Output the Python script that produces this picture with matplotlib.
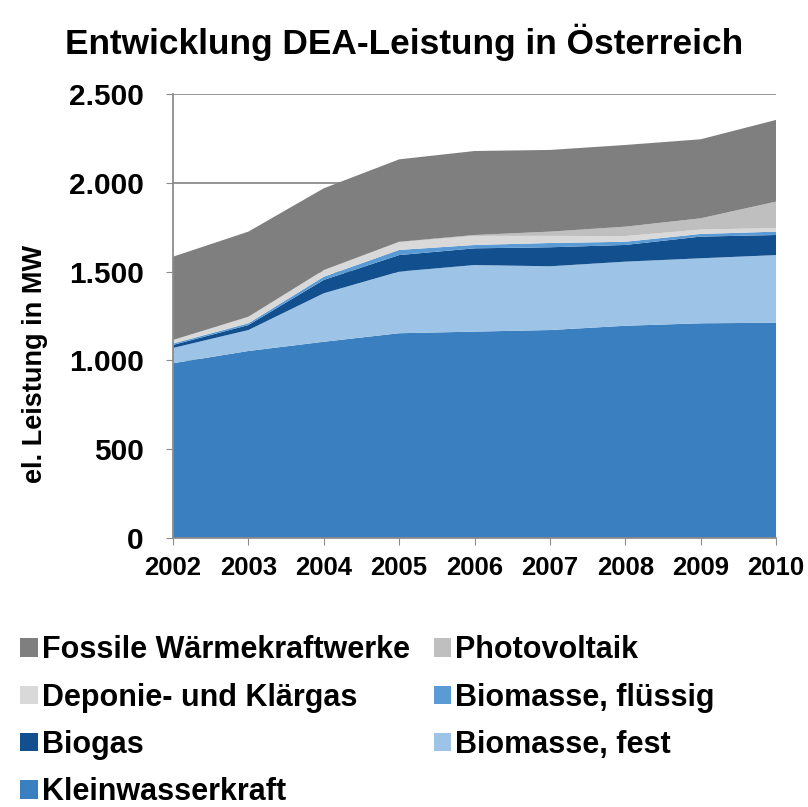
import numpy as np
import matplotlib
matplotlib.use('Agg')
from matplotlib import pyplot as plt
from matplotlib.patches import Patch
from matplotlib.ticker import FuncFormatter

years = [2002, 2003, 2004, 2005, 2006, 2007, 2008, 2009, 2010]

# stacked from bottom to top, MW
kleinwasser = [984, 1053, 1105, 1153, 1162, 1171, 1195, 1209, 1212]
biomasse_fest = [86, 118, 273, 347, 375, 359, 361, 366, 381]
biogas = [17, 28, 75, 93, 94, 107, 94, 122, 113]
biomasse_fluessig = [8, 10, 18, 29, 19, 24, 18, 15, 19]
deponie = [19, 34, 35, 43, 51, 40, 32, 25, 20]
photovoltaik = [1, 3, 3, 3, 5, 24, 53, 63, 149]
fossil = [469, 479, 460, 464, 473, 460, 460, 445, 460]

labels = ['Kleinwasserkraft', 'Biomasse, fest', 'Biogas', 'Biomasse, flüssig',
          'Deponie- und Klärgas', 'Photovoltaik', 'Fossile Wärmekraftwerke']
colors = ['#3a80c0', '#9dc3e6', '#114f8f', '#5b9bd5',
          '#d9d9d9', '#bfbfbf', '#7f7f7f']

title = 'Entwicklung DEA-Leistung in Österreich'
ylabel = 'el. Leistung in MW'
yticks = [0, 500, 1000, 1500, 2000, 2500]

plt.rcParams['font.family'] = ['Liberation Sans', 'DejaVu Sans']
plt.rcParams['font.weight'] = 'bold'

fig = plt.figure(figsize=(8.08, 8.07), dpi=100)
ax = fig.add_axes([173/808, 1 - 538/807, (776-173)/808, (538-94)/807])

series = [kleinwasser, biomasse_fest, biogas, biomasse_fluessig,
          deponie, photovoltaik, fossil]
ax.stackplot(years, *series, colors=colors, labels=labels, linewidth=0)

ax.set_xlim(2002, 2010)
ax.set_ylim(0, 2500)
ax.set_yticks(yticks)
ax.set_xticks(years)
ax.yaxis.set_major_formatter(FuncFormatter(lambda v, p: f'{int(v):,}'.replace(',', '.')))
ax.grid(axis='y', color='#8c8c8c', linewidth=1.3)
ax.set_axisbelow(True)
for s in ['top', 'right']:
    ax.spines[s].set_visible(False)
for s in ['left', 'bottom']:
    ax.spines[s].set_color('#8c8c8c')
    ax.spines[s].set_linewidth(1.3)
ax.tick_params(axis='y', labelsize=21.5, length=5, color='#8c8c8c', pad=16)
ax.tick_params(axis='x', labelsize=18.5, length=5, color='#8c8c8c', pad=8)
for lab in ax.get_xticklabels() + ax.get_yticklabels():
    lab.set_fontweight('bold')

ax.set_ylabel(ylabel, fontsize=19.5, fontweight='bold')
ax.yaxis.set_label_coords(-0.207, 0.392)
fig.text(0.5, 1 - 42/807, title, fontsize=25.4, fontweight='bold',
         ha='center', va='center')

# legend in Excel row order
order = [6, 4, 2, 0, 5, 3, 1]
handles = [Patch(facecolor=colors[i], edgecolor='none') for i in order]
fig.legend(handles, [labels[i] for i in order], ncol=2,
           loc='upper left', bbox_to_anchor=(8/808, 1 - 623/807),
           frameon=False, prop={'size': 22, 'weight': 'bold'},
           handlelength=0.58, handleheight=0.55, handletextpad=0.13,
           columnspacing=0.78, labelspacing=0.57, borderaxespad=0)

fig.savefig('out.png', dpi=100)
